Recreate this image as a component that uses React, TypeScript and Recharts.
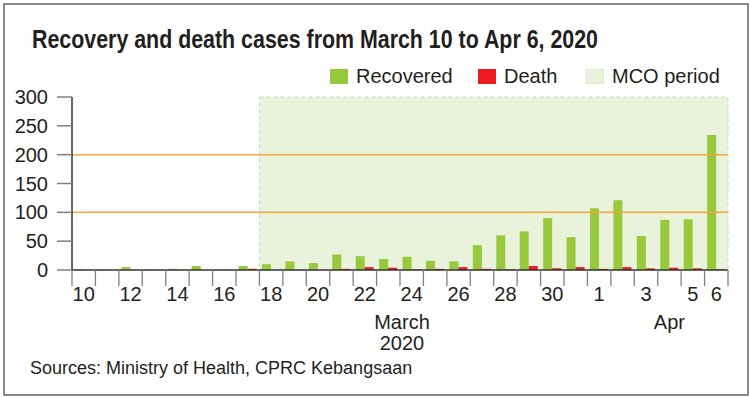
import { BarChart, Bar, XAxis, YAxis, ReferenceArea, ReferenceLine } from 'recharts'

const days = ['10', '11', '12', '13', '14', '15', '16', '17', '18', '19', '20', '21', '22', '23', '24', '25', '26', '27', '28', '29', '30', '31', '1', '2', '3', '4', '5', '6']
const tickLabels = ['10', '', '12', '', '14', '', '16', '', '18', '', '20', '', '22', '', '24', '', '26', '', '28', '', '30', '', '1', '', '3', '', '5', '6']
const recovered = [1, 1, 5, 1, 2, 7, 0, 7, 10, 15, 12, 27, 24, 19, 23, 16, 15, 43, 60, 67, 90, 57, 107, 121, 59, 87, 88, 234]
const deaths = [0, 0, 0, 0, 0, 0, 0, 2, 0, 0, 0, 2, 5, 4, 1, 2, 5, 2, 1, 7, 3, 5, 2, 5, 3, 4, 3, 1]
const yTicks = [0, 50, 100, 150, 200, 250, 300]
const guideLines = [100, 200]
const mcoStart = '18'
const mcoEnd = '6'

const GREEN = '#98c93c'
const RED = '#ed1c24'
const MCO = '#e9f2da'
const ORANGE = '#f5a53c'
const FONT = '"Liberation Sans", Arial, sans-serif'

const W = 750
const H = 397
const M = { top: 97, right: 22, bottom: 87, left: 12 }
const BW = (W - M.left - 60 - M.right) / days.length

const data = days.map((day, i) => ({ day, recovered: recovered[i], deaths: deaths[i] }))

function DayTick(props: any) {
  const { x, y, payload, index } = props
  const half = BW / 2
  const label = tickLabels[index]
  return (
    <g>
      <line x1={x - half} x2={x - half} y1={y} y2={y + 16} stroke="#808080" strokeWidth={1.3} />
      {index === days.length - 1 && (
        <line x1={x + half} x2={x + half} y1={y} y2={y + 16} stroke="#808080" strokeWidth={1.3} />
      )}
      {label && (
        <text x={x} y={y + 31} textAnchor="middle" fill="#231f20" fontSize={20} fontFamily={FONT}>
          {label}
        </text>
      )}
      {index === 14 && (
        <text x={x - half + 2} y={y + 59} textAnchor="middle" fill="#231f20" fontSize={20} fontFamily={FONT}>
          <tspan x={x - half + 2}>March</tspan>
          <tspan x={x - half + 2} dy={21}>2020</tspan>
        </text>
      )}
      {index === 25 && (
        <text x={x} y={y + 59} textAnchor="middle" fill="#231f20" fontSize={20} fontFamily={FONT}>
          Apr
        </text>
      )}
    </g>
  )
}

const legendItems = [
  { name: 'Recovered', color: GREEN, left: 330 },
  { name: 'Death', color: RED, left: 478 },
  { name: 'MCO period', color: MCO, left: 586 },
]

export default function App() {
  return (
    <div style={{ position: 'absolute', left: 0, top: 0, width: W, height: H, background: '#fff', fontFamily: FONT }}>
      <div
        style={{
          position: 'absolute', left: 3, top: 3, width: W - 8, height: H - 8,
          border: '2px solid #8a8a8a', boxSizing: 'content-box',
        }}
      />
      <svg style={{ position: 'absolute', left: 0, top: 0 }} width={W} height={60}>
        <text
          x={32}
          y={48}
          fontFamily={FONT}
          fontWeight={700}
          fontSize={26}
          fill="#231f20"
          textLength={566}
          lengthAdjust="spacingAndGlyphs"
        >
          Recovery and death cases from March 10 to Apr 6, 2020
        </text>
      </svg>
      {legendItems.map((it) => (
        <div key={it.name} style={{ position: 'absolute', left: it.left, top: 64, display: 'flex', alignItems: 'center', height: 24 }}>
          <div
            style={{
              width: 18, height: 15, background: it.color, marginRight: 8, boxSizing: 'border-box',
              border: it.color === MCO ? '1px solid #dde8d0' : 'none',
            }}
          />
          <span style={{ fontSize: 20, color: '#231f20', lineHeight: '24px', whiteSpace: 'nowrap' }}>{it.name}</span>
        </div>
      ))}
      <BarChart width={W} height={H} data={data} margin={M} barCategoryGap="11%" barGap={0}>
        <ReferenceArea
          x1={mcoStart}
          x2={mcoEnd}
          y1={0}
          y2={300}
          fill={MCO}
          fillOpacity={1}
          stroke="#c8d8c0"
          strokeDasharray="4 3"
        />
        {guideLines.map((v) => (
          <ReferenceLine key={v} y={v} stroke={ORANGE} strokeWidth={1.5} />
        ))}
        <XAxis
          dataKey="day"
          interval={0}
          height={40}
          tickLine={false}
          tickSize={0}
          tickMargin={0}
          axisLine={{ stroke: '#333', strokeWidth: 1.5 }}
          tick={<DayTick />}
        />
        <YAxis
          width={60}
          domain={[0, 300]}
          ticks={yTicks}
          interval={0}
          tickSize={15}
          tickMargin={9}
          axisLine={{ stroke: '#333', strokeWidth: 1.5 }}
          tickLine={{ stroke: '#808080', strokeWidth: 1.5 }}
          tick={{ fill: '#231f20', fontSize: 20, fontFamily: FONT }}
        />
        <Bar dataKey="recovered" fill={GREEN} isAnimationActive={false} />
        <Bar dataKey="deaths" fill={RED} isAnimationActive={false} />
      </BarChart>
      <div
        style={{
          position: 'absolute', left: 30, top: 358, fontSize: 18, color: '#231f20', whiteSpace: 'nowrap',
        }}
      >
        Sources: Ministry of Health, CPRC Kebangsaan
      </div>
    </div>
  )
}
